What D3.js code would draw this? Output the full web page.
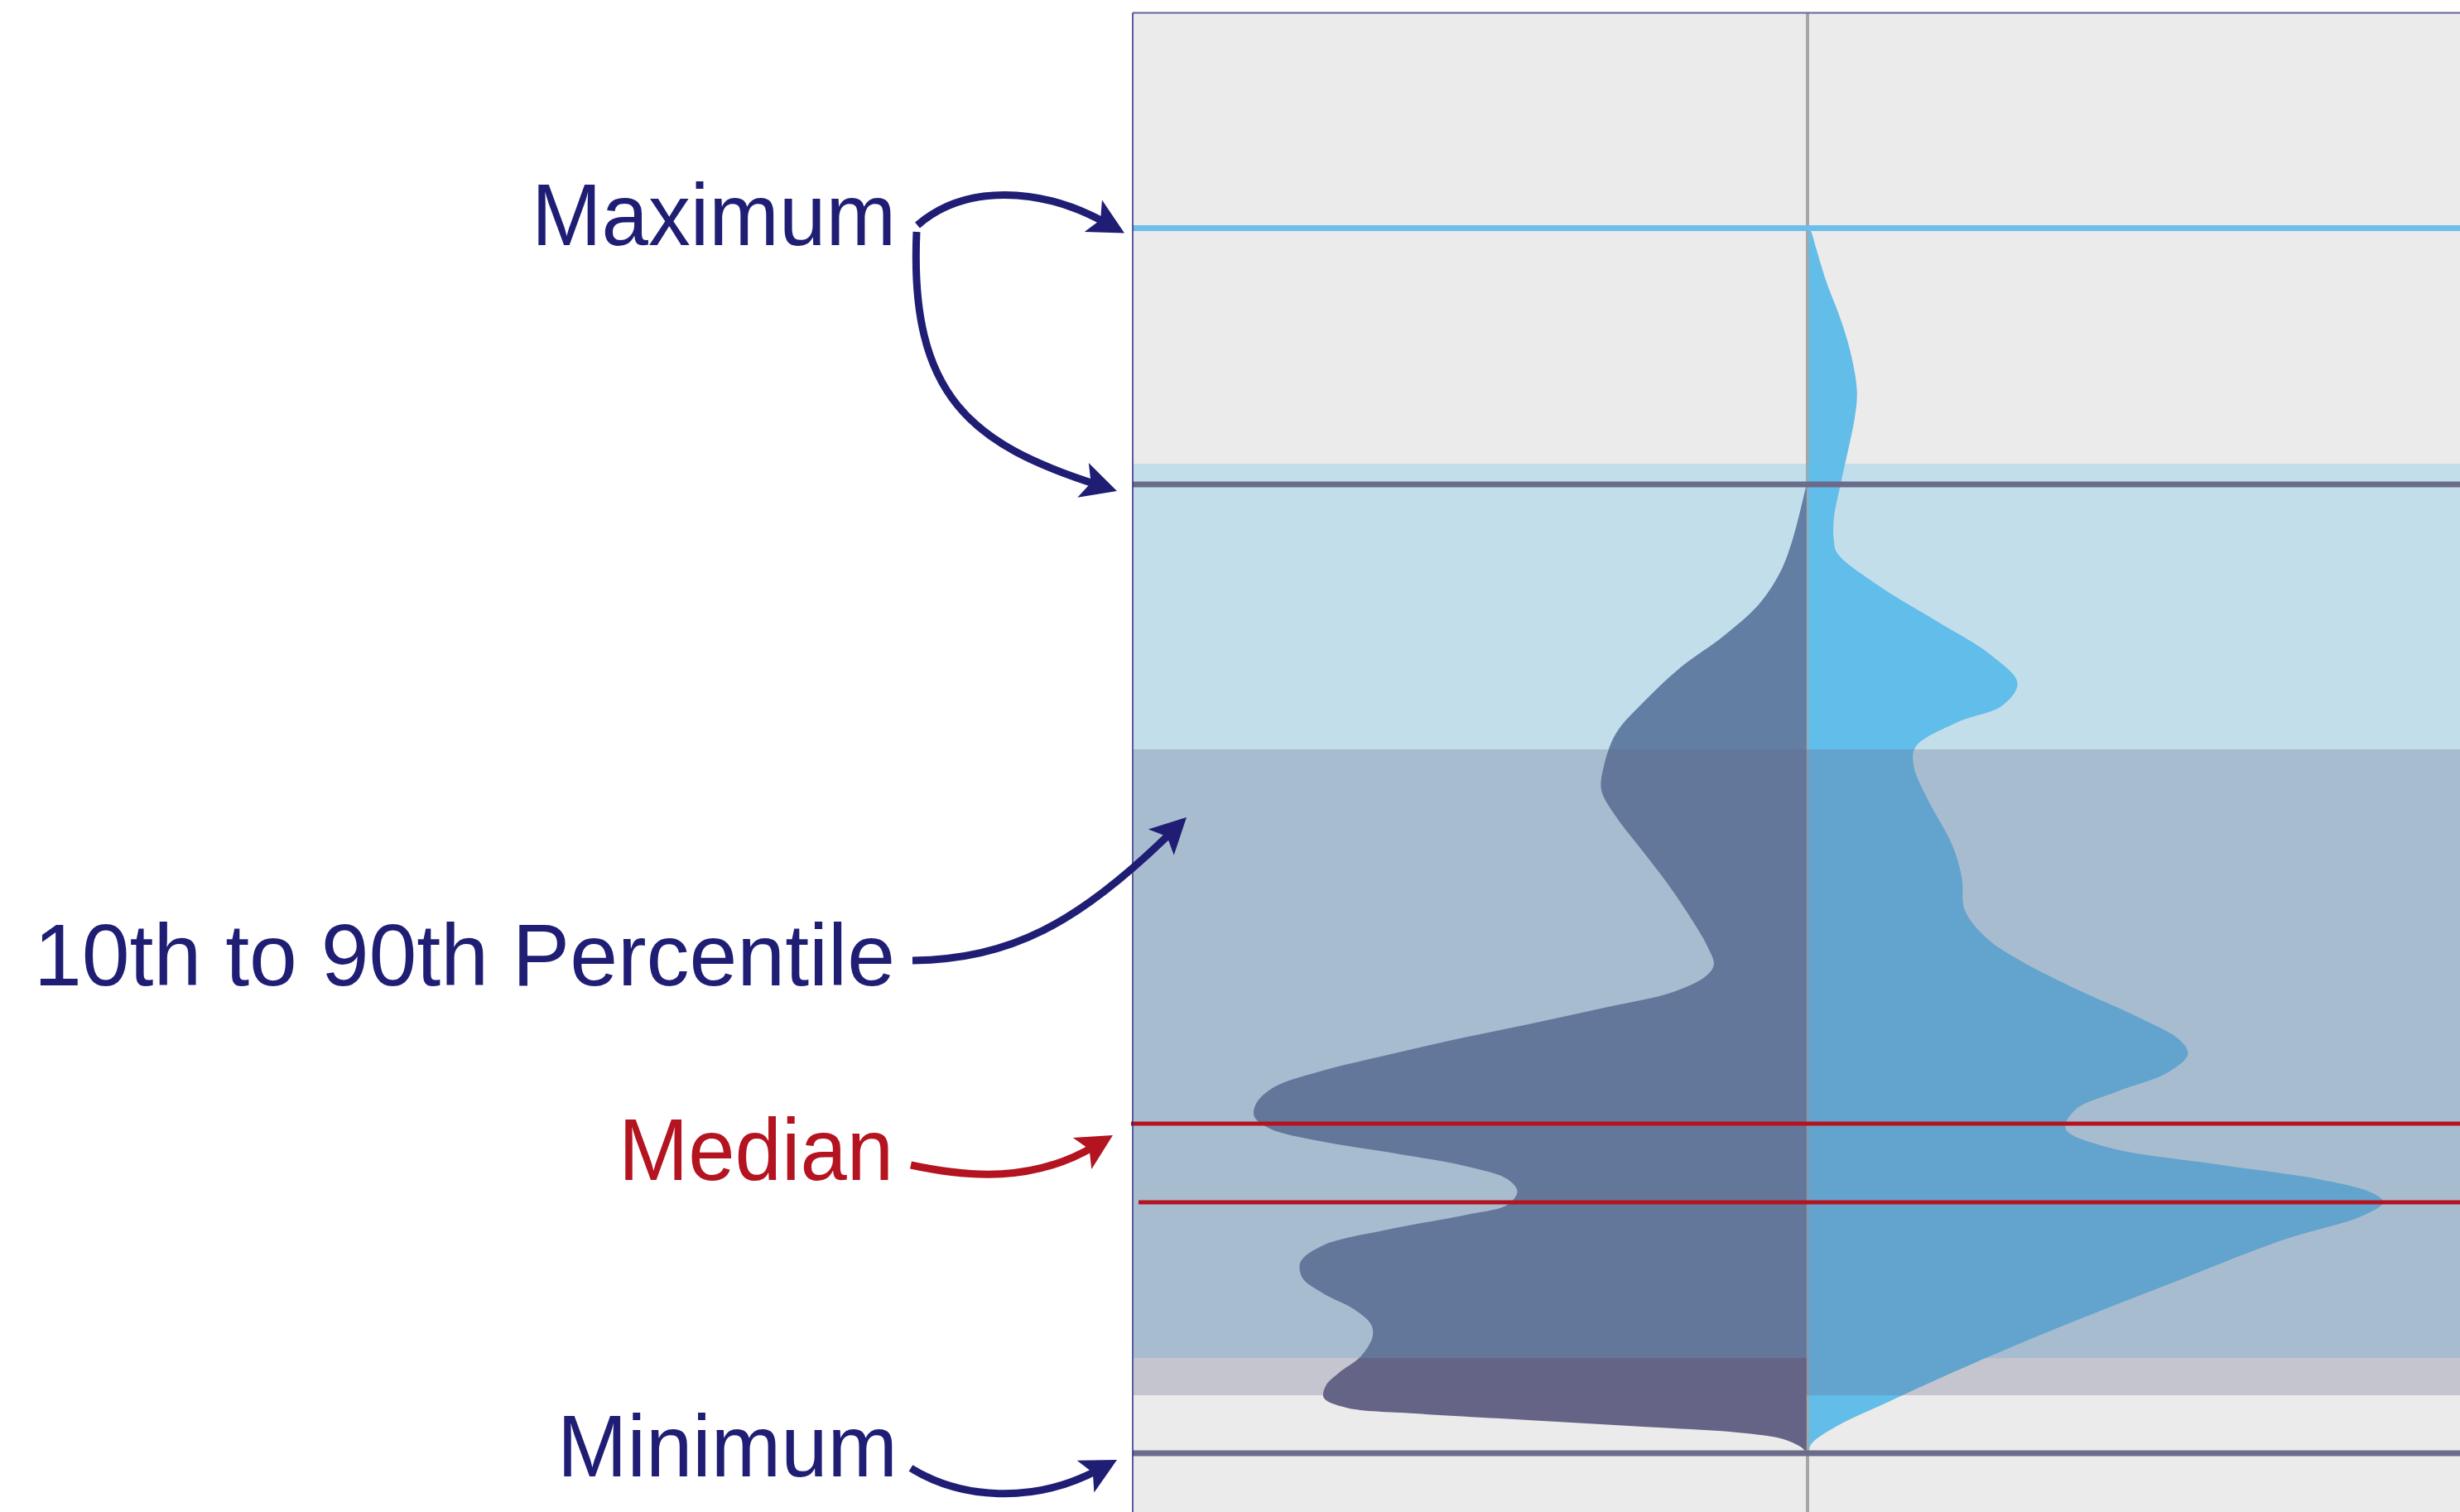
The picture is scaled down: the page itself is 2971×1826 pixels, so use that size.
<!DOCTYPE html>
<html>
<head>
<meta charset="utf-8">
<script src="https://cdn.jsdelivr.net/npm/d3@7"></script>
<style>
  html, body { margin: 0; padding: 0; background: #ffffff; overflow: hidden; }
  svg { display: block; }
</style>
</head>
<body>
<svg id="chart"></svg>
<script>
// ---------------- DATA ----------------
const seriesNames = ["Series A", "Series B"];

// Series A (dark, drawn to the left of the centre line)
const darkValues = [79.08, 78.88, 74.75, 72.05, 69.42, 66.71, 64.08, 61.37, 58.74, 56.03,
  54.14, 52.04, 49.34, 46.70, 44.00, 41.37, 39.88, 38.93, 37.65, 36.36,
  35.01, 33.73, 32.44, 31.16, 29.87, 28.59, 27.51, 26.50, 25.48, 24.47,
  23.39, 22.37, 21.36, 20.28, 19.53, 18.25, 16.97, 15.61, 14.33, 13.04,
  11.76, 10.48, 9.46, 7.91, 6.56, 5.54, 4.53, 3.72, 3.24, 2.70,
  2.16, 1.69, 1.15, 0.41, 0];
const darkDensity = [0, 0.001, 0.023, 0.044, 0.080, 0.143, 0.219, 0.280, 0.329, 0.350,
  0.354, 0.330, 0.286, 0.243, 0.204, 0.171, 0.160, 0.174, 0.230, 0.349,
  0.480, 0.611, 0.729, 0.840, 0.919, 0.949, 0.953, 0.926, 0.840, 0.709,
  0.584, 0.516, 0.499, 0.516, 0.579, 0.723, 0.834, 0.873, 0.870, 0.834,
  0.781, 0.751, 0.749, 0.769, 0.807, 0.829, 0.833, 0.794, 0.676, 0.480,
  0.283, 0.119, 0.040, 0.007, 0];

// Series B (light blue, drawn to the right of the centre line)
const lightValues = [100, 99.70, 98.28, 95.51, 92.80, 90.03, 86.72, 84.49, 81.72, 78.94,
  76.24, 74.55, 73.47, 70.70, 67.93, 65.16, 62.86, 61.03, 59.68, 57.65,
  56.10, 53.46, 49.68, 46.98, 44.34, 42.04, 40.15, 37.92, 35.62, 33.73,
  32.58, 31.09, 29.54, 28.05, 26.50, 25.01, 23.52, 22.37, 21.22, 20.48,
  19.33, 17.44, 13.65, 9.80, 6.02, 4.12, 2.23, 0.74, 0];
const lightDensity = [0, 0.004, 0.013, 0.031, 0.053, 0.071, 0.083, 0.079, 0.067, 0.054,
  0.043, 0.043, 0.049, 0.124, 0.220, 0.314, 0.360, 0.334, 0.257, 0.184,
  0.181, 0.204, 0.247, 0.264, 0.269, 0.307, 0.367, 0.460, 0.567, 0.640,
  0.654, 0.620, 0.533, 0.460, 0.443, 0.513, 0.713, 0.879, 0.973, 0.991,
  0.953, 0.820, 0.613, 0.407, 0.221, 0.134, 0.049, 0.004, 0];

// summary statistics: [Series A, Series B]
const maxima   = [79.08, 100];
const upperPct = [57.45, 80.77];   // 90th percentile
const lowerPct = [4.73, 7.77];     // 10th percentile
const medians  = [26.90, 20.48];
const minima   = [0, 0];

const labelTexts = ["Maximum", "10th to 90th Percentile", "Median", "Minimum"];

// ---------------- LAYOUT / STYLE ----------------
const W = 2971, H = 1826;
const plotLeft = 1368, plotTop = 15.5;
const cx = 2183;
const navy = "#1f1e74", red = "#b3141f";
const darkFill = "#656487", lightFill = "#62bde9";

const svg = d3.select("#chart").attr("width", W).attr("height", H)
  .attr("font-family", "'Liberation Sans', Arial, Helvetica, sans-serif");

const y = d3.scaleLinear().domain([0, 100]).range([1755, 275.5]);
const dens = d3.scaleLinear().domain([0, 1]).range([0, 700]);

// plot background
svg.append("rect").attr("x", plotLeft).attr("y", plotTop)
  .attr("width", W - plotLeft).attr("height", H - plotTop).attr("fill", "#ebebeb");

// centre line
svg.append("line").attr("x1", cx).attr("x2", cx).attr("y1", plotTop).attr("y2", H)
  .attr("stroke", "#a6a6a6").attr("stroke-width", 4);

// densities
const darkData = darkValues.map((v, i) => ({ v, d: darkDensity[i] }));
const lightData = lightValues.map((v, i) => ({ v, d: lightDensity[i] }));

const curve = d3.curveCatmullRom.alpha(0.5);
const darkArea = d3.area().curve(curve)
  .y(p => y(p.v)).x0(cx - 1.2).x1(p => cx - 1.2 - dens(p.d));
const lightArea = d3.area().curve(curve)
  .y(p => y(p.v)).x0(cx + 1.6).x1(p => cx + 1.6 + dens(p.d));

svg.append("path").datum(darkData).attr("d", darkArea).attr("fill", darkFill);
svg.append("path").datum(lightData).attr("d", lightArea).attr("fill", lightFill);

// percentile bands (semi-transparent, on top)
svg.append("rect").attr("x", plotLeft + 1).attr("width", W - plotLeft)
  .attr("y", y(upperPct[1])).attr("height", y(lowerPct[1]) - y(upperPct[1]))
  .attr("fill", lightFill).attr("fill-opacity", 0.29);
svg.append("rect").attr("x", plotLeft + 1).attr("width", W - plotLeft)
  .attr("y", y(upperPct[0])).attr("height", y(lowerPct[0]) - y(upperPct[0]))
  .attr("fill", darkFill).attr("fill-opacity", 0.28);

// horizontal statistic lines
function hline(val, color, width, x0) {
  svg.append("line").attr("x1", x0 === undefined ? plotLeft : x0).attr("x2", W)
    .attr("y1", y(val)).attr("y2", y(val))
    .attr("stroke", color).attr("stroke-width", width);
}
hline(maxima[1], "#6cbfea", 7);
hline(maxima[0], "#6b6b8c", 7);
hline(medians[0], red, 5, plotLeft - 2);
hline(medians[1], red, 5, plotLeft + 7);
hline(minima[0], "#6b6b8c", 7);

// frame
svg.append("line").attr("x1", plotLeft).attr("x2", W).attr("y1", plotTop).attr("y2", plotTop)
  .attr("stroke", "#6464a0").attr("stroke-width", 2);
svg.append("line").attr("x1", plotLeft).attr("x2", plotLeft).attr("y1", plotTop).attr("y2", H)
  .attr("stroke", "#26267e").attr("stroke-width", 1.5);

// ---------------- ANNOTATIONS ----------------
const defs = svg.append("defs");
function marker(id, color) {
  defs.append("marker").attr("id", id)
    .attr("markerUnits", "userSpaceOnUse")
    .attr("viewBox", "-12 -24 48 48")
    .attr("markerWidth", 48).attr("markerHeight", 48)
    .attr("refX", 7).attr("refY", 0)
    .attr("orient", "auto")
    .style("overflow", "visible")
    .append("path").attr("d", "M33,0 L-10,-22 L0,0 L-10,22 Z").attr("fill", color);
}
marker("headNavy", navy);
marker("headRed", red);

function arrow(p0, p1, p2, tip, color, mk) {
  const dx = tip[0] - p2[0], dy = tip[1] - p2[1];
  const len = Math.hypot(dx, dy);
  const ux = dx / len, uy = dy / len;
  const end = [tip[0] - 26 * ux, tip[1] - 26 * uy];
  const c2 = [p2[0] - 26 * ux, p2[1] - 26 * uy];
  const path = d3.path();
  path.moveTo(p0[0], p0[1]);
  path.bezierCurveTo(p1[0], p1[1], c2[0], c2[1], end[0], end[1]);
  svg.append("path").attr("d", path.toString())
    .attr("fill", "none").attr("stroke", color).attr("stroke-width", 9)
    .attr("marker-end", `url(#${mk})`);
}

// Maximum -> series B maximum
arrow([1108, 272], [1165, 222], [1279, 238], [1358, y(maxima[1]) + 6], navy, "headNavy");
// Maximum -> series A maximum
arrow([1107, 280], [1098, 480], [1200, 545], [1349, y(maxima[0]) + 8], navy, "headNavy");
// Percentile band
arrow([1102, 1160], [1220, 1158], [1320, 1098], [1433, 987], navy, "headNavy");
// Median
arrow([1100, 1407], [1170, 1422], [1270, 1415], [1344, y(medians[0]) + 14], red, "headRed");
// Minimum
arrow([1100, 1773], [1160, 1810], [1270, 1805], [1349, y(minima[0]) + 8], navy, "headNavy");

// labels
const labels = [
  { text: labelTexts[0], x: 1082, y: 295.5, len: 440, color: navy },
  { text: labelTexts[1], x: 1081, y: 1190, len: 1040, color: navy },
  { text: labelTexts[2], x: 1079, y: 1425, len: 332, color: red },
  { text: labelTexts[3], x: 1084, y: 1783, len: 411, color: navy }
];
svg.selectAll("text.lab").data(labels).join("text")
  .attr("class", "lab")
  .attr("x", d => d.x).attr("y", d => d.y)
  .attr("text-anchor", "end")
  .attr("font-size", 105)
  .attr("textLength", d => d.len)
  .attr("lengthAdjust", "spacingAndGlyphs")
  .attr("fill", d => d.color)
  .text(d => d.text);
</script>
</body>
</html>
